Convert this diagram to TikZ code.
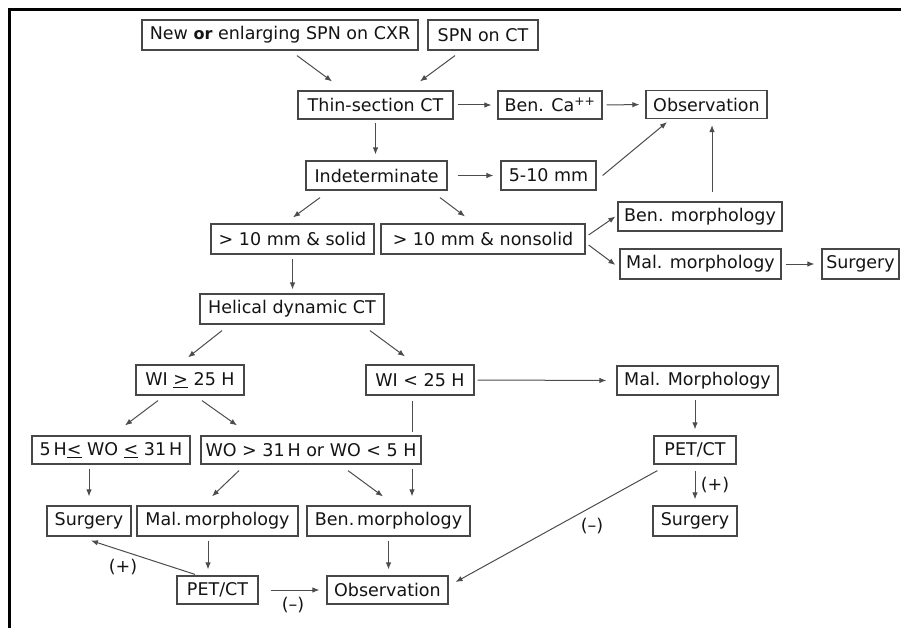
\documentclass[tikz,border=0pt]{standalone}
\usepackage{fontspec}
\setmainfont{DejaVu Sans}
\usetikzlibrary{arrows.meta}
\begin{document}
\begin{tikzpicture}[x=1pt,y=-1pt,
  bx/.style={draw=black!72, line width=1.2pt, inner sep=0pt, font=\fontsize{17.5}{20}\selectfont, text=black!92, fill=white},
  ar/.style={draw=black!70, line width=1pt, -{Latex[length=7pt,width=5.5pt]}},
  ln/.style={draw=black!70, line width=1pt},
  lab/.style={font=\fontsize{17.5}{20}\selectfont, text=black!92, inner sep=0pt},
  frm/.style={draw=black, line width=3pt}]
\useasboundingbox (0,0) rectangle (901,628);
% frame
\coordinate (fa) at (901,10);
\coordinate (fb) at (9,10);
\coordinate (fc) at (9,628);
\draw[frm] (fa) -- (fb) -- (fc);
% nodes
\node[bx, minimum width=276pt, minimum height=30pt] (cxr) at (280,35) {New {\bfseries\fontsize{16}{20}\selectfont or} enlarging SPN on CXR};
\node[bx, minimum width=110pt, minimum height=30pt] (spnct) at (483,35) {SPN on CT};
\node[bx, minimum width=155pt, minimum height=28pt] (thin) at (375.5,105) {Thin-section CT};
\node[bx, minimum width=104pt, minimum height=28pt] (benca) at (550,105) {Ben. Ca\textsuperscript{++}};
\node[bx, minimum width=121pt, minimum height=28pt] (obs1) at (706.5,104.5) {Observation};
\node[bx, minimum width=141pt, minimum height=29pt] (indet) at (376.5,175.5) {Indeterminate};
\node[bx, minimum width=95pt, minimum height=29pt] (mm) at (548.5,175.5) {5-10 mm};
\node[bx, minimum width=163pt, minimum height=30pt] (solid) at (292.5,239) {> 10 mm \& solid};
\node[bx, minimum width=204pt, minimum height=30pt] (nonsolid) at (483,239) {> 10 mm \& nonsolid};
\node[bx, minimum width=164pt, minimum height=29pt] (benr) at (700,216.5) {Ben. morphology};
\node[bx, minimum width=161pt, minimum height=30pt] (malr) at (700.5,264) {Mal. morphology};
\node[bx, minimum width=77pt, minimum height=30pt] (surgr) at (860.5,264) {Surgery};
\node[bx, minimum width=184pt, minimum height=30pt] (helical) at (292,309) {Helical dynamic CT};
\node[bx, minimum width=108pt, minimum height=30pt] (wige) at (190,380) {WI \underline{>} 25 H};
\node[bx, minimum width=108pt, minimum height=30pt] (wilt) at (420,380) {WI < 25 H};
\node[bx, minimum width=161pt, minimum height=29pt] (malM) at (697.5,380.5) {Mal. Morphology};
\node[bx, minimum width=158pt, minimum height=28pt] (wo531) at (111,450) {5\,H\underline{<} WO \underline{<} 31\,H};
\node[bx, minimum width=220pt, minimum height=28pt] (wogt) at (311,450) {WO > 31\,H or WO < 5 H};
\node[bx, minimum width=84pt, minimum height=30pt] (surgl) at (89,521) {Surgery};
\node[bx, minimum width=161pt, minimum height=30pt] (malb) at (217.5,521) {Mal.\,morphology};
\node[bx, minimum width=163pt, minimum height=30pt] (benb) at (388.5,521) {Ben.\,morphology};
\node[bx, minimum width=81pt, minimum height=28pt] (petl) at (217.5,590) {PET/CT};
\node[bx, minimum width=121pt, minimum height=28pt] (obsb) at (387.5,590) {Observation};
\node[bx, minimum width=82pt, minimum height=28pt] (petr) at (695,450) {PET/CT};
\node[bx, minimum width=84pt, minimum height=30pt] (surgb) at (695,521) {Surgery};
% labels
\node[lab] (lp1) at (123,567) {(+)};
\node[lab] (lm1) at (293,605) {(–)};
\node[lab] (lp2) at (715,485) {(+)};
\node[lab] (lm2) at (592,526) {(–)};
% connectors
\draw[ar] ([xshift=17pt,yshift=-5pt]cxr.south) -- ([xshift=-43.5pt,yshift=9pt]thin.north);
\draw[ar] ([xshift=-28pt,yshift=-5pt]spnct.south) -- ([xshift=44.5pt,yshift=9pt]thin.north);
\draw[ar, shorten <=3pt, shorten >=6pt] (thin.south) -- (thin.south |- indet.north);
\draw[ar, shorten <=4pt, shorten >=6pt] (thin.east) -- (benca.west);
\draw[ar, shorten <=4pt, shorten >=6pt] (benca.east) -- (obs1.west);
\draw[ar, shorten <=10pt, shorten >=7pt] (indet.east) -- (mm.west);
\draw[ar] ([xshift=6pt]mm.east) -- ([xshift=-39.5pt,yshift=-3pt]obs1.south);
\coordinate (v0) at ([xshift=12pt]benr.north);
\draw[ar, shorten <=9pt, shorten >=6pt] (v0) -- (v0 |- obs1.south);
\draw[ar] ([xshift=-56.5pt,yshift=-7pt]indet.south) -- ([xshift=0.5pt,yshift=6pt]solid.north);
\draw[ar] ([xshift=63.5pt,yshift=-7pt]indet.south) -- ([xshift=-18pt,yshift=7pt]nonsolid.north);
\draw[ar] ([xshift=3pt,yshift=4pt]nonsolid.east) -- ([xshift=-2pt]benr.west);
\draw[ar] ([xshift=3pt,yshift=-6pt]nonsolid.east) -- ([xshift=-4pt,yshift=-1pt]malr.west);
\draw[ar, shorten <=4pt, shorten >=7pt] (malr.east) -- (surgr.west);
\draw[ar, shorten <=4pt, shorten >=4pt] (solid.south) -- (solid.south |- helical.north);
\draw[ar] ([xshift=-70pt,yshift=-6pt]helical.south) -- ([xshift=-2pt,yshift=7pt]wige.north);
\draw[ar] ([xshift=78pt,yshift=-6pt]helical.south) -- ([xshift=-15pt,yshift=8pt]wilt.north);
\draw[ar, shorten <=3pt, shorten >=10pt] (wilt.east) -- (malM.west);
\draw[ar] ([xshift=-32pt,yshift=-5pt]wige.south) -- ([xshift=14pt,yshift=10pt]wo531.north);
\draw[ar] ([xshift=12pt,yshift=-5pt]wige.south) -- ([xshift=-74pt,yshift=10pt]wogt.north);
\coordinate (v1) at ([xshift=-8pt]wilt.south);
\draw[ln, shorten <=5pt, shorten >=3pt] (v1) -- (v1 |- wogt.north);
\draw[ar, shorten <=4pt, shorten >=9pt] (v1 |- wogt.south) -- (v1 |- benb.north);
\draw[ar] ([xshift=-72pt,yshift=-6pt]wogt.south) -- ([xshift=-5.5pt,yshift=9pt]malb.north);
\draw[ar] ([xshift=37pt,yshift=-6pt]wogt.south) -- ([xshift=-5.5pt,yshift=9pt]benb.north);
\draw[ar, shorten <=4pt, shorten >=9pt] (wo531.south -| surgl.north) -- (surgl.north);
\coordinate (v2) at ([xshift=-9.5pt]malb.south);
\draw[ar, shorten <=4pt, shorten >=6pt] (v2) -- (v2 |- petl.north);
\draw[ar, shorten <=4pt, shorten >=6pt] (benb.south) -- (benb.south |- obsb.north);
\draw[ar] ([xshift=-22.5pt,yshift=1pt]petl.north) -- ([xshift=2pt,yshift=-4pt]surgl.south);
\draw[ar, shorten <=12pt, shorten >=7pt] (petl.east) -- (obsb.west);
\draw[ar, shorten <=4pt, shorten >=6pt] (petr.north |- malM.south) -- (petr.north);
\draw[ar, shorten <=6pt, shorten >=6pt] (petr.south) -- (surgb.north);
\draw[ar] ([xshift=4pt,yshift=-6pt]petr.south west) -- ([xshift=7pt,yshift=8pt]obsb.east);
\end{tikzpicture}
\end{document}
